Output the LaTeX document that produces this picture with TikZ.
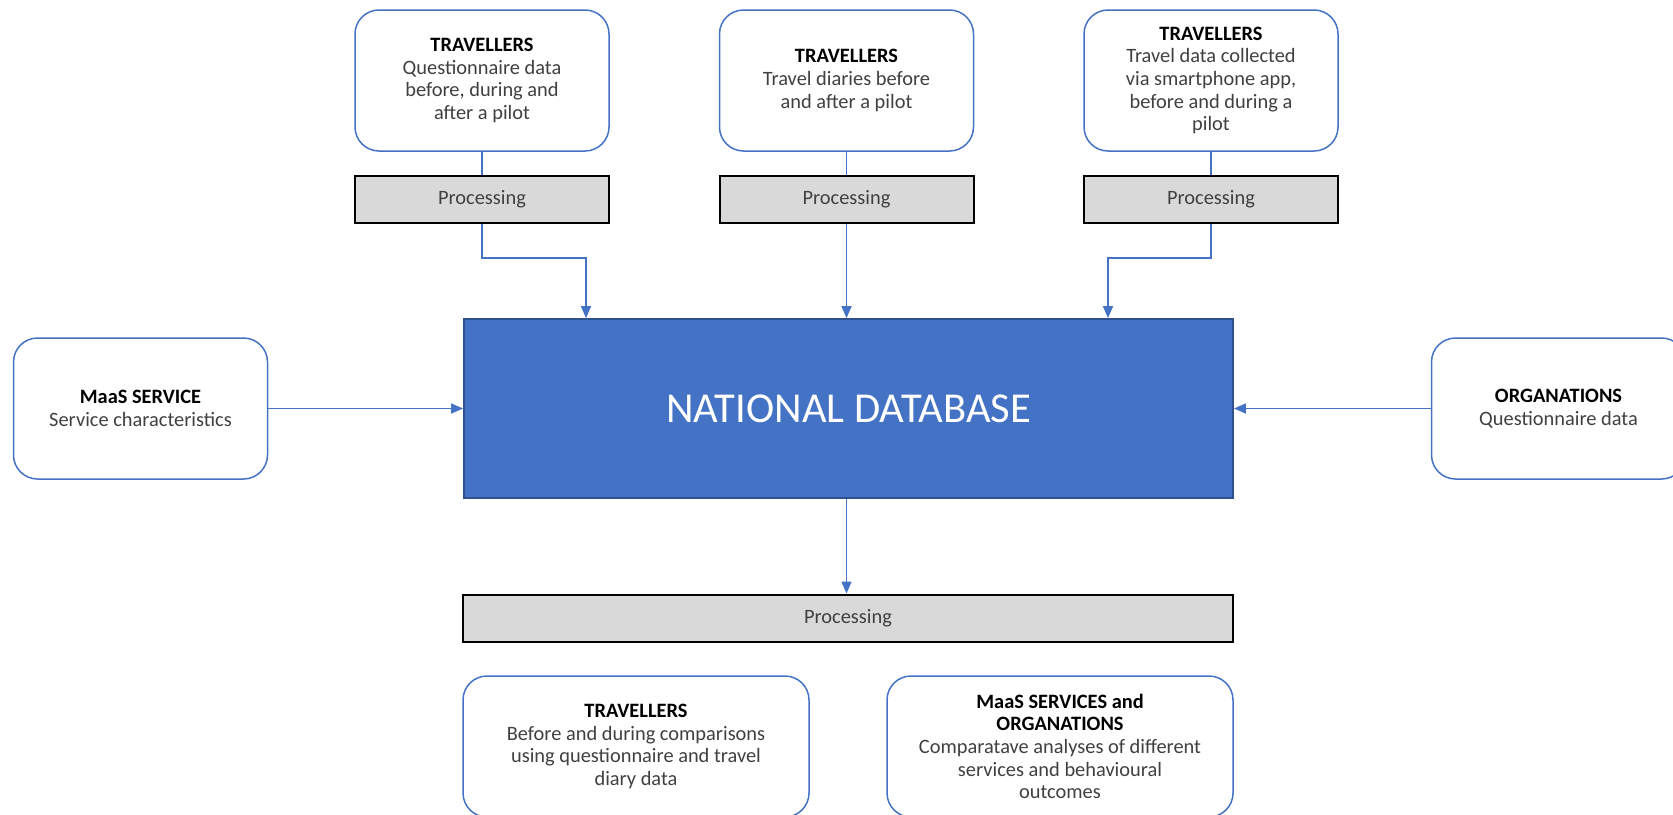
\documentclass[tikz,border=0pt]{standalone}
\usepackage{fontspec}
\setmainfont{Carlito}
\usetikzlibrary{positioning}
\usetikzlibrary{arrows.meta}

\definecolor{maasblue}{HTML}{4472C4}
\definecolor{maasedge}{HTML}{2F528F}
\definecolor{procgray}{HTML}{D9D9D9}
\definecolor{bodytext}{HTML}{404040}
\newcommand{\hdr}[1]{{\color{black}\bfseries #1}}

\begin{document}
\begin{tikzpicture}[
  x=0.5pt, y=-0.5pt,
  every node/.style={font=\fontsize{10.2}{11.3}\selectfont},
  src/.style={draw=maasblue, line width=0.75pt, rounded corners=12pt, fill=white,
    align=center, text=bodytext, minimum width=127pt, minimum height=70.5pt, inner sep=2pt},
  proc/.style={draw=black, line width=1pt, fill=procgray, text=bodytext,
    minimum width=127pt, minimum height=23.5pt, inner sep=0pt},
  link/.style={draw=maasblue, line width=0.75pt},
  >={Triangle[length=6pt,width=5pt]}
]
\clip (0,0) rectangle (1673,814);

% sources at the top
\node[src] (trvq) at (482,80.5) {\hdr{TRAVELLERS}\\Questionnaire data\\before, during and\\after a pilot};
\node[src] (trvd) at (846.5,80.5) {\hdr{TRAVELLERS}\\Travel diaries before\\and after a pilot};
\node[src] (trva) at (1211,80.5) {\hdr{TRAVELLERS}\\Travel data collected\\via smartphone app,\\before and during a\\pilot};

\node[proc] (procq) at (482,199.5) {Processing};
\node[proc] (procd) at (846.5,199.5) {Processing};
\node[proc] (proca) at (1211,199.5) {Processing};

% database
\node[draw=maasedge, line width=0.9pt, fill=maasblue, text=white,
  minimum width=384.5pt, minimum height=89.5pt,
  font=\fontsize{21.3}{25}\selectfont] (db) at (848.5,408.5) {NATIONAL DATABASE};

\node[src] (maas) at (140.5,408.5) {\hdr{MaaS SERVICE}\\Service characteristics};
\node[src] (org) at (1558.5,408.5) {\hdr{ORGANATIONS}\\Questionnaire data};

\node[proc, minimum width=385pt] (procdb) at (848,618) {Processing};

% outputs
\node[src, minimum width=173pt] (outtrv) at (636,746.5) {\hdr{TRAVELLERS}\\Before and during comparisons\\using questionnaire and travel\\diary data};
\node[src, minimum width=173pt] (outorg) at (1060,746.5) {\hdr{MaaS SERVICES and}\\\hdr{ORGANATIONS}\\Comparatave analyses of different\\services and behavioural\\outcomes};

\coordinate (inq) at (586,319);
\coordinate (ina) at (1108,319);

\draw[link] (trvq) -- (procq);
\draw[link] (trvd) -- (procd);
\draw[link] (trva) -- (proca);

\draw[link,->] (procq.south) -- ++(0,34) -| (db.north -| inq);
\draw[link,->] (procd.south) -- (procd.south |- db.north);
\draw[link,->] (proca.south) -- ++(0,34) -| (db.north -| ina);

\draw[link,->] (maas) -- (db);
\draw[link,->] (org) -- (db);
\draw[link,->] (db.south -| procd) -- (procdb.north -| procd);
\end{tikzpicture}
\end{document}
